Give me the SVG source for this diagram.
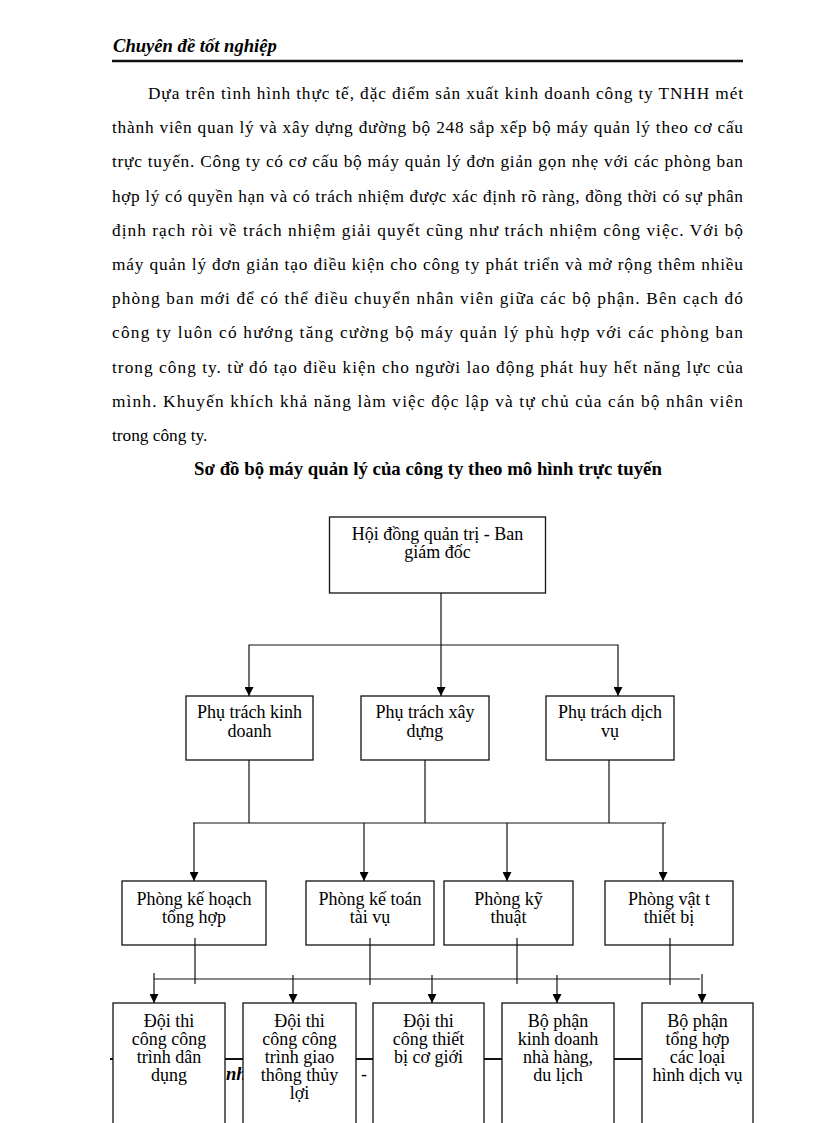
<svg xmlns="http://www.w3.org/2000/svg" width="816" height="1123" viewBox="0 0 816 1123">
<style>
  .hdr { font-family: "Liberation Serif", "Times New Roman", serif; font-weight: bold; font-style: italic; font-size: 18.6px; fill: #000; }
  .body { font-family: "Liberation Serif", "Times New Roman", serif; font-size: 17.3px; fill: #000; }
  .title { font-family: "Liberation Serif", "Times New Roman", serif; font-weight: bold; font-size: 18.8px; fill: #000; text-anchor: middle; }
  .lbl { font-family: "Liberation Serif", "Times New Roman", serif; font-size: 18px; fill: #000; text-anchor: middle; }
  .box { fill: #fff; stroke: #111; stroke-width: 1.3; }
  .ln { fill: none; stroke: #111; stroke-width: 1.2; }
  .arr { fill: none; stroke: #111; stroke-width: 1.2; marker-end: url(#ah); }
</style>
<defs>
  <marker id="ah" markerUnits="userSpaceOnUse" viewBox="0 0 10 10" refX="10" refY="5" markerWidth="9" markerHeight="9" orient="auto">
    <path d="M0,0 L10,5 L0,10 z" fill="#000"/>
  </marker>
</defs>
<rect width="816" height="1123" fill="#fff"/>

<!-- header -->
<text class="hdr" x="113" y="52">Chuyên đề tốt nghiệp</text>
<line x1="112" y1="61" x2="743" y2="61" stroke="#111" stroke-width="2.5"/>

<!-- paragraph -->
<g id="paragraph">
<text class="body" x="148" y="99" textLength="595" lengthAdjust="spacing">Dựa trên tình hình thực tế, đặc điểm sản xuất kinh doanh công ty TNHH mét</text>
<text class="body" x="112" y="133.2" textLength="631" lengthAdjust="spacing">thành viên quan lý và xây dựng đường bộ 248 sắp xếp bộ máy quản lý theo cơ cấu</text>
<text class="body" x="112" y="167.4" textLength="631" lengthAdjust="spacing">trực tuyến. Công ty có cơ cấu bộ máy quản lý đơn giản gọn nhẹ với các phòng ban</text>
<text class="body" x="112" y="201.6" textLength="631" lengthAdjust="spacing">hợp lý có quyền hạn và có trách nhiệm được xác định rõ ràng, đồng thời có sự phân</text>
<text class="body" x="112" y="235.8" textLength="631" lengthAdjust="spacing">định rạch ròi về trách nhiệm giải quyết cũng như trách nhiệm công việc. Với bộ</text>
<text class="body" x="112" y="270" textLength="631" lengthAdjust="spacing">máy quản lý đơn giản tạo điều kiện cho công ty phát triển và mở rộng thêm nhiều</text>
<text class="body" x="112" y="304.2" textLength="631" lengthAdjust="spacing">phòng ban mới để có thể điều chuyển nhân viên giữa các bộ phận. Bên cạch đó</text>
<text class="body" x="112" y="338.4" textLength="631" lengthAdjust="spacing">công ty luôn có hướng tăng cường bộ máy quản lý phù hợp với các phòng ban</text>
<text class="body" x="112" y="372.6" textLength="631" lengthAdjust="spacing">trong công ty. từ đó tạo điều kiện cho người lao động phát huy hết năng lực của</text>
<text class="body" x="112" y="406.8" textLength="631" lengthAdjust="spacing">mình. Khuyến khích khả năng làm việc độc lập và tự chủ của cán bộ nhân viên</text>
<text class="body" x="112" y="441">trong công ty.</text>
</g>

<text class="title" x="428" y="475">Sơ đồ bộ máy quản lý của công ty theo mô hình trực tuyến</text>

<!-- background remnants behind bottom row -->
<line x1="110" y1="1059" x2="753" y2="1059" stroke="#111" stroke-width="2.2"/>
<text class="hdr" x="226" y="1080">nh</text>
<text class="lbl" x="364" y="1080">-</text>

<!-- connectors -->
<g id="connectors">
  <line class="arr" x1="441" y1="593" x2="441" y2="696"/>
  <polyline class="arr" points="441,645 249,645 249,696"/>
  <polyline class="arr" points="441,645 618,645 618,696"/>

  <line class="ln" x1="249" y1="760" x2="249" y2="823"/>
  <line class="ln" x1="425" y1="760" x2="425" y2="823"/>
  <line class="ln" x1="609" y1="760" x2="609" y2="823"/>
  <line class="ln" x1="193" y1="823" x2="666" y2="823"/>
  <line class="arr" x1="194" y1="823" x2="194" y2="881"/>
  <line class="arr" x1="364" y1="823" x2="364" y2="881"/>
  <line class="arr" x1="507" y1="823" x2="507" y2="881"/>
  <line class="arr" x1="663" y1="823" x2="663" y2="881"/>

  <line class="ln" x1="154" y1="979" x2="700" y2="979"/>
  <line class="arr" x1="154" y1="973" x2="154" y2="1003"/>
  <line class="arr" x1="293" y1="975" x2="293" y2="1003"/>
  <line class="arr" x1="432" y1="975" x2="432" y2="1003"/>
  <line class="arr" x1="557" y1="975" x2="557" y2="1003"/>
  <line class="arr" x1="702" y1="974" x2="702" y2="1003"/>
</g>

<!-- level 1 -->
<g id="n-hdqt">
  <rect class="box" x="329.5" y="517" width="216" height="76"/>
  <text class="lbl" x="437.5" y="540">Hội đồng quản trị - Ban</text>
  <text class="lbl" x="437.5" y="558">giám đốc</text>
</g>

<!-- level 2 -->
<g id="n-kinhdoanh">
  <rect class="box" x="186" y="696" width="127" height="64"/>
  <text class="lbl" x="249.5" y="718">Phụ trách  kinh</text>
  <text class="lbl" x="249.5" y="737">doanh</text>
</g>
<g id="n-xaydung">
  <rect class="box" x="361" y="696" width="128" height="64"/>
  <text class="lbl" x="425" y="718">Phụ trách  xây</text>
  <text class="lbl" x="425" y="737">dựng</text>
</g>
<g id="n-dichvu">
  <rect class="box" x="546" y="696" width="128" height="64"/>
  <text class="lbl" x="610" y="718">Phụ trách dịch</text>
  <text class="lbl" x="610" y="737">vụ</text>
</g>

<!-- level 3 -->
<g id="n-kehoach">
  <rect class="box" x="122" y="881" width="144" height="64"/>
  <text class="lbl" x="194" y="905">Phòng kế hoạch</text>
  <text class="lbl" x="194" y="923">tổng hợp</text>
</g>
<g id="n-ketoan">
  <rect class="box" x="306" y="881" width="128" height="64"/>
  <text class="lbl" x="370" y="905">Phòng kế toán</text>
  <text class="lbl" x="370" y="923">tài vụ</text>
</g>
<g id="n-kythuat">
  <rect class="box" x="444" y="881" width="129" height="64"/>
  <text class="lbl" x="508.5" y="905">Phòng kỹ</text>
  <text class="lbl" x="508.5" y="923">thuật</text>
</g>
<g id="n-vattu">
  <rect class="box" x="605" y="881" width="128" height="64"/>
  <text class="lbl" x="669" y="905">Phòng vật t</text>
  <text class="lbl" x="669" y="923">thiết bị</text>
</g>
<g id="connectors-l3">
  <line class="ln" x1="195" y1="938" x2="195" y2="984"/>
  <line class="ln" x1="370" y1="938" x2="370" y2="985"/>
  <line class="ln" x1="517" y1="938" x2="517" y2="984"/>
  <line class="ln" x1="670" y1="938" x2="670" y2="985"/>
</g>

<!-- level 4 -->
<g id="n-doi-dandung">
  <rect class="box" x="113" y="1003" width="112" height="140"/>
  <text class="lbl" x="169" y="1027">Đội thi</text>
  <text class="lbl" x="169" y="1045">công công</text>
  <text class="lbl" x="169" y="1063">trình dân</text>
  <text class="lbl" x="169" y="1081">dụng</text>
</g>
<g id="n-doi-giaothong">
  <rect class="box" x="243" y="1003" width="113" height="140"/>
  <text class="lbl" x="299.5" y="1027">Đội thi</text>
  <text class="lbl" x="299.5" y="1045">công công</text>
  <text class="lbl" x="299.5" y="1063">trình giao</text>
  <text class="lbl" x="299.5" y="1081">thông thủy</text>
  <text class="lbl" x="299.5" y="1099">lợi</text>
</g>
<g id="n-doi-cogioi">
  <rect class="box" x="373" y="1003" width="111" height="140"/>
  <text class="lbl" x="428.5" y="1027">Đội thi</text>
  <text class="lbl" x="428.5" y="1045">công thiết</text>
  <text class="lbl" x="428.5" y="1063">bị cơ giới</text>
</g>
<g id="n-bp-nhahang">
  <rect class="box" x="502" y="1003" width="112" height="140"/>
  <text class="lbl" x="558" y="1027">Bộ phận</text>
  <text class="lbl" x="558" y="1045">kinh doanh</text>
  <text class="lbl" x="558" y="1063">nhà hàng,</text>
  <text class="lbl" x="558" y="1081">du lịch</text>
</g>
<g id="n-bp-tonghop">
  <rect class="box" x="642" y="1003" width="111" height="140"/>
  <text class="lbl" x="697.5" y="1027">Bộ phận</text>
  <text class="lbl" x="697.5" y="1045">tổng hợp</text>
  <text class="lbl" x="697.5" y="1063">các loại</text>
  <text class="lbl" x="697.5" y="1081">hình dịch vụ</text>
</g>
</svg>
